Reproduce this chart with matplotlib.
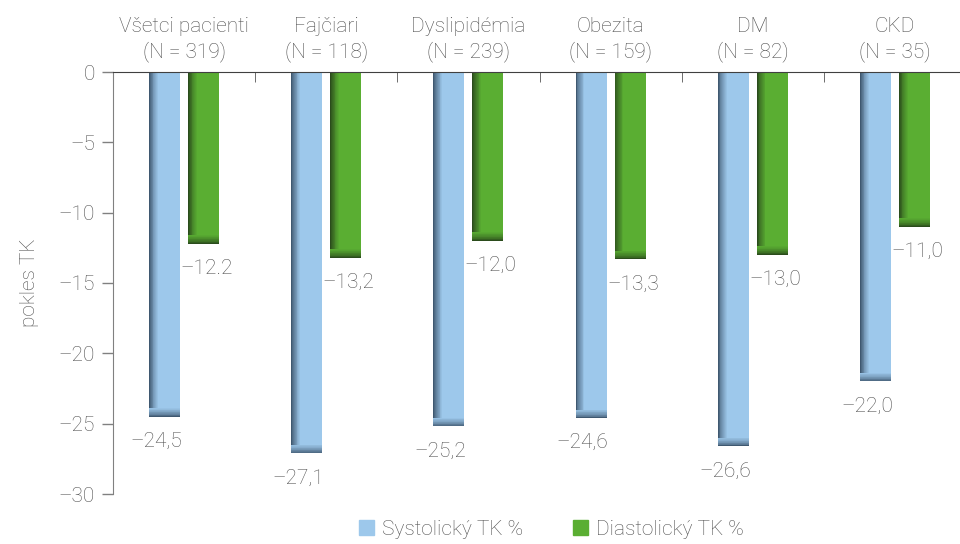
import matplotlib.pyplot as plt
import matplotlib.colors as mcolors
import numpy as np

groups = ['Všetci pacienti\n(N = 319)', 'Fajčiari\n(N = 118)', 'Dyslipidémia\n(N = 239)',
          'Obezita\n(N = 159)', 'DM\n(N = 82)', 'CKD\n(N = 35)']
systolic = [-24.5, -27.1, -25.2, -24.6, -26.6, -22.0]
diastolic = [-12.2, -13.2, -12.0, -13.3, -13.0, -11.0]
systolic_labels = ['–24,5', '–27,1', '–25,2', '–24,6', '–26,6', '–22,0']
diastolic_labels = ['–12.2', '–13,2', '–12,0', '–13,3', '–13,0', '–11,0']
y_ticks = [-30, -25, -20, -15, -10, -5, 0]
y_tick_labels = ['–30', '–25', '–20', '–15', '–10', '–5', '0']

blue = '#9dc8eb'
blue_dark = '#3f5870'
green = '#5aae32'
green_dark = '#2b4c1c'
text_gray = '#4f4f4f'

plt.rcParams['font.family'] = ['Roboto', 'DejaVu Sans']
plt.rcParams['font.weight'] = 'light'
plt.rcParams['axes.labelweight'] = 'light'
fs = 15

fig = plt.figure(figsize=(9.6, 5.44), dpi=100)
ax = fig.add_axes([113 / 960, 1 - 494 / 544, 1 - 113 / 960, (494 - 72) / 544])

x = np.arange(len(groups))
w = 0.218
off = 0.137


def shaded_bars(xc, vals, base, dark):
    # plain bar plus a dark fade on the left edge and at the bar end
    ax.bar(xc, vals, w, color=base, zorder=2)
    dk = np.array(mcolors.to_rgb(dark))
    bs = np.array(mcolors.to_rgb(base))
    n = 10
    sw = w * 0.28 / n
    for i in range(n):
        t = (i / n) ** 0.8
        ax.bar(xc - w / 2 + sw * (i + 0.5), vals, sw, color=dk * (1 - t) + bs * t,
               zorder=3, linewidth=0)
    m = 12
    h = 0.6 / m
    for j in range(m):
        t = (j / m) ** 0.7
        ax.bar(xc, h * 1.05, w, bottom=np.array(vals) + h * j, color=dk * (1 - t) + bs * t,
               zorder=4, linewidth=0)


shaded_bars(x - off, systolic, blue, blue_dark)
shaded_bars(x + off, diastolic, green, green_dark)

for xi, v, s in zip(x - off, systolic, systolic_labels):
    ax.annotate(s, (xi - 0.06, v), xytext=(0, -11), textcoords='offset points',
                ha='center', va='top', fontsize=fs, color=text_gray)
for xi, v, s in zip(x + off, diastolic, diastolic_labels):
    ax.annotate(s, (xi + 0.02, v), xytext=(0, -11), textcoords='offset points',
                ha='center', va='top', fontsize=fs, color=text_gray)

ax.set_xlim(-0.5, 5.457)
ax.set_ylim(-30, 0)
ax.set_yticks(y_ticks)
ax.set_yticklabels(y_tick_labels)
ax.tick_params(axis='y', length=8, width=1, color='#808080', labelsize=fs,
               labelcolor=text_gray, pad=5)
ax.set_ylabel('pokles TK', fontsize=fs, color=text_gray, labelpad=14)

# category names on top, separators pointing down from the zero line
ax.xaxis.tick_top()
ax.set_xticks(x)
ax.set_xticklabels(groups, fontsize=fs, color=text_gray, linespacing=1.35)
ax.set_xticks(np.arange(0.5, 5.5, 1), minor=True)
ax.tick_params(axis='x', which='major', length=0, pad=7)
ax.tick_params(axis='x', which='minor', length=7, direction='in', color='#555555', top=True)

ax.spines['right'].set_visible(False)
ax.spines['bottom'].set_visible(False)
ax.spines['left'].set_color('#808080')
ax.spines['top'].set_color('#404040')
ax.spines['top'].set_zorder(5)

handles = [plt.Rectangle((0, 0), 1, 1, color=blue), plt.Rectangle((0, 0), 1, 1, color=green)]
fig.legend(handles, ['Systolický TK %', 'Diastolický TK %'], loc='center',
           bbox_to_anchor=(0.574, 0.027), ncol=2, frameon=False, fontsize=fs,
           labelcolor=text_gray, handlelength=0.75, handleheight=0.75, handletextpad=0.35,
           columnspacing=2.4)

fig.savefig('out.png', dpi=100)
